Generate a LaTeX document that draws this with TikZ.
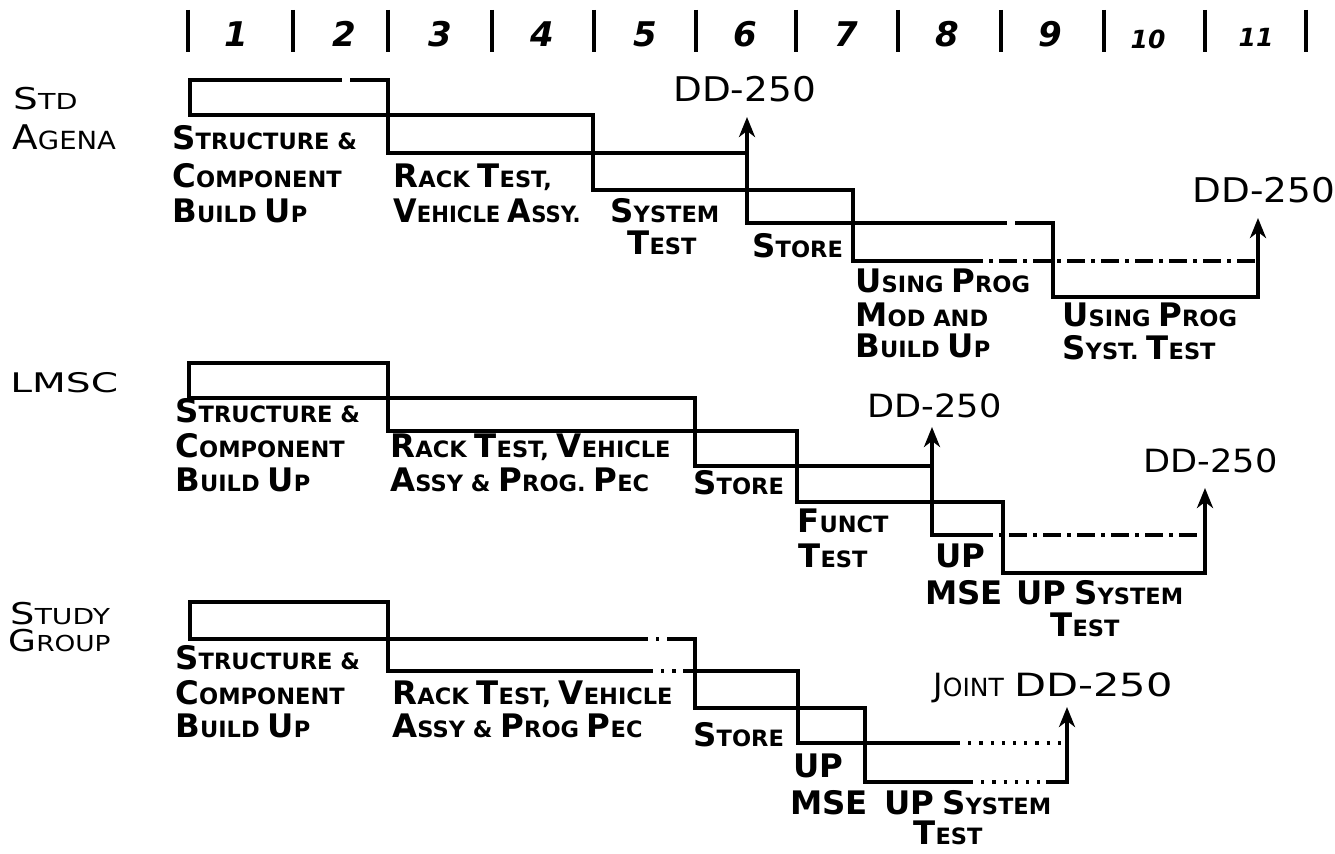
\documentclass[tikz,border=0pt]{standalone}
\usepackage{fontspec}
\usepackage{graphicx}
\setmainfont{DejaVu Sans}
\usetikzlibrary{arrows.meta}
\newcommand\Bg[1]{{\fontsize{16.2}{17}\selectfont #1}}
\newcommand\Lg[1]{{\fontsize{17}{17}\selectfont #1}}
\newcommand\Mg[1]{{\fontsize{15}{15}\selectfont #1}}
\newcommand\DDt{\scalebox{1.1}[1]{DD-250}}
\begin{document}
\begin{tikzpicture}[x=0.5pt,y=-0.5pt,
  stage/.style={anchor=base west, inner sep=0pt, font=\bfseries\fontsize{11.25}{12}\selectfont},
  grp/.style={anchor=base west, inner sep=0pt, font=\fontsize{12.5}{13}\selectfont},
  grpsm/.style={anchor=base west, inner sep=0pt, font=\fontsize{11}{12}\selectfont},
  dd/.style={anchor=base west, inner sep=0pt, font=\fontsize{17}{17}\selectfont},
  ddsm/.style={anchor=base west, inner sep=0pt, font=\fontsize{16}{16}\selectfont},
  num/.style={anchor=base, inner sep=0pt, font=\bfseries\itshape\fontsize{17}{17}\selectfont},
  numsm/.style={num, font=\bfseries\itshape\fontsize{12.5}{13}\selectfont},
  tick/.style={line width=2pt},
  bar/.style={line width=1.9pt, line join=miter, line cap=rect},
  dotseg/.style={line width=1.9pt, dash pattern=on 1.6pt off 4pt},
  dashseg/.style={line width=1.9pt, dash pattern=on 9pt off 3pt on 2pt off 3pt},
  arr/.style={line width=1.9pt, -{Stealth[length=10pt,width=8pt,inset=3pt]}},
]
\useasboundingbox (0,0) rectangle (1335,854);

% ---------- header ----------
\foreach \x in {187.5,293,388,492,594,696,796,898,1001,1104,1205,1306}
  \draw[tick] (\x,10) -- (\x,52);
\node[num] (n1) at (236,47) {1};
\node[num] (n2) at (344,47) {2};
\node[num] (n3) at (440,47) {3};
\node[num] (n4) at (542,47) {4};
\node[num] (n5) at (645,47) {5};
\node[num] (n6) at (745,47) {6};
\node[num] (n7) at (846,47) {7};
\node[num] (n8) at (947,47) {8};
\node[num] (n9) at (1050,47) {9};
\node[numsm] (n10) at (1148,49) {10};
\node[numsm] (n11) at (1256,47) {11};

% ---------- row 1 : Std Agena ----------
\foreach \n/\x/\y in {s1a/190/115, s1b/190/80, s1c/388/80, s1d/388/153, s1e/747/153,
  s1f/593/115, s1g/593/190, s1h/853/190, s1i/853/261, s1j/1258/261,
  s1k/747/223, s1l/1053/223, s1m/1053/297, s1n/1258/297,
  s1t/747/117, s1u/1258/218, s1g1/340/80, s1g2/352/80, s1g3/1005/223, s1g4/1017/223, s1g5/965/261}
  \coordinate (\n) at (\x,\y);
\draw[bar] (s1a) -- (s1b) -- (s1g1);
\draw[bar] (s1g2) -- (s1c) -- (s1d) -- (s1e);
\draw[bar] (s1a) -- (s1f) -- (s1g) -- (s1h) -- (s1i) -- (s1g5);
\draw[dashseg] (s1g5) -- (s1j);
\draw[bar] (s1k) -- (s1g3);
\draw[bar] (s1g4) -- (s1l) -- (s1m) -- (s1n);
\draw[arr] (s1k) -- (s1t);
\draw[arr] (s1n) -- (s1u);

\node[grpsm] (g1a) at (13,110) {\scalebox{1.3}[1]{\Mg{S}TD}};
\node[grp] (g1b) at (12,150) {\scalebox{1.1}[1]{\Lg{A}GENA}};
\node[stage] (t1a) at (172,150) {\Bg{S}TRUCTURE \&};
\node[stage] (t1b) at (172,188) {\Bg{C}OMPONENT};
\node[stage] (t1c) at (172,223) {\Bg{B}UILD \Bg{U}P};
\node[stage] (t1d) at (393,188) {\Bg{R}ACK \Bg{T}EST,};
\node[stage] (t1e) at (393,223) {\scalebox{0.94}[1]{\Bg{V}EHICLE \Bg{A}SSY.}};
\node[stage] (t1f) at (610,223) {\Bg{S}YSTEM};
\node[stage] (t1g) at (627,255) {\Bg{T}EST};
\node[stage] (t1h) at (752,258) {\Bg{S}TORE};
\node[stage] (t1i) at (855,293) {\Bg{U}SING \Bg{P}ROG};
\node[stage] (t1j) at (855,327) {\Bg{M}OD AND};
\node[stage] (t1k) at (855,358) {\Bg{B}UILD \Bg{U}P};
\node[stage] (t1l) at (1062,327) {\Bg{U}SING \Bg{P}ROG};
\node[stage] (t1m) at (1062,360) {\Bg{S}YST. \Bg{T}EST};
\node[dd] (d1a) at (673,102) {\DDt};
\node[dd] (d1b) at (1192,203) {\DDt};

% ---------- row 2 : LMSC ----------
\foreach \n/\x/\y in {s2a/189/398, s2b/189/363, s2c/388/363, s2d/388/431, s2e/797/431,
  s2f/797/502, s2g/1003/502, s2h/1003/573, s2i/1205/573,
  s2j/695/398, s2k/695/466, s2l/932/466, s2m/932/535, s2n/1205/535,
  s2t/932/427, s2u/1205/488, s2g5/975/535}
  \coordinate (\n) at (\x,\y);
\draw[bar] (s2a) -- (s2b) -- (s2c) -- (s2d) -- (s2e) -- (s2f) -- (s2g) -- (s2h) -- (s2i);
\draw[bar] (s2a) -- (s2j) -- (s2k) -- (s2l);
\draw[bar] (s2m) -- (s2g5);
\draw[dashseg] (s2g5) -- (s2n);
\draw[arr] (s2m) -- (s2t);
\draw[arr] (s2i) -- (s2u);

\node[grp] (g2a) at (10,393) {\scalebox{1.45}[1]{\fontsize{13.5}{14}\selectfont LMSC}};
\node[stage] (t2a) at (175,423) {\Bg{S}TRUCTURE \&};
\node[stage] (t2b) at (175,458) {\Bg{C}OMPONENT};
\node[stage] (t2c) at (175,492) {\Bg{B}UILD \Bg{U}P};
\node[stage] (t2d) at (390,458) {\Bg{R}ACK \Bg{T}EST, \Bg{V}EHICLE};
\node[stage] (t2e) at (390,492) {\Bg{A}SSY \& \Bg{P}ROG. \Bg{P}EC};
\node[stage] (t2f) at (693,495) {\Bg{S}TORE};
\node[stage] (t2g) at (797,533) {\Bg{F}UNCT};
\node[stage] (t2h) at (798,568) {\Bg{T}EST};
\node[stage] (t2i) at (935,568) {\Bg{UP}};
\node[stage] (t2j) at (925,605) {\Bg{MSE}};
\node[stage] (t2k) at (1016,605) {\Bg{UP} \Bg{S}YSTEM};
\node[stage] (t2l) at (1050,637) {\Bg{T}EST};
\node[ddsm] (d2a) at (867,418) {\DDt};
\node[ddsm] (d2b) at (1143,473) {\DDt};

% ---------- row 3 : Study Group ----------
\foreach \n/\x/\y in {s3a/190/639, s3b/190/602, s3c/388/602, s3d/388/671, s3e/798/671,
  s3f/798/743, s3g/1067/743, s3j/695/639, s3k/695/708, s3l/865/708, s3m/865/782,
  s3n/1067/782, s3t/1067/707,
  s3p1/650/671, s3p2/685/671, s3q1/645/639, s3q2/672/639,
  s3r1/957/743, s3v1/970/782, s3v2/1048/782}
  \coordinate (\n) at (\x,\y);
\draw[bar] (s3a) -- (s3b) -- (s3c) -- (s3d) -- (s3p1);
\draw[dotseg] (s3p1) -- (s3p2);
\draw[bar] (s3p2) -- (s3e) -- (s3f) -- (s3r1);
\draw[dotseg] (s3r1) -- (s3g);
\draw[bar] (s3a) -- (s3q1);
\draw[dotseg] (s3q1) -- (s3q2);
\draw[bar] (s3q2) -- (s3j) -- (s3k) -- (s3l) -- (s3m) -- (s3v1);
\draw[dotseg] (s3v1) -- (s3v2);
\draw[bar] (s3v2) -- (s3n);
\draw[arr] (s3n) -- (s3t);

\node[grpsm] (g3a) at (10,625) {\scalebox{1.28}[1]{\Mg{S}TUDY}};
\node[grpsm] (g3b) at (8,652) {\scalebox{1.2}[1]{\Mg{G}ROUP}};
\node[stage] (t3a) at (175,670) {\Bg{S}TRUCTURE \&};
\node[stage] (t3b) at (175,705) {\Bg{C}OMPONENT};
\node[stage] (t3c) at (175,738) {\Bg{B}UILD \Bg{U}P};
\node[stage] (t3d) at (392,705) {\Bg{R}ACK \Bg{T}EST, \Bg{V}EHICLE};
\node[stage] (t3e) at (392,738) {\Bg{A}SSY \& \Bg{P}ROG \Bg{P}EC};
\node[stage] (t3f) at (693,747) {\Bg{S}TORE};
\node[stage] (t3g) at (793,778) {\Bg{UP}};
\node[stage] (t3h) at (790,815) {\Bg{MSE}};
\node[stage] (t3i) at (884,815) {\Bg{UP} \Bg{S}YSTEM};
\node[stage] (t3j) at (913,845) {\Bg{T}EST};
\node[ddsm] (d3) at (933,697) {{\fontsize{12.5}{13}\selectfont{\fontsize{16}{16}\selectfont J}OINT} \scalebox{1.3}[1]{DD-250}};
\end{tikzpicture}
\end{document}
